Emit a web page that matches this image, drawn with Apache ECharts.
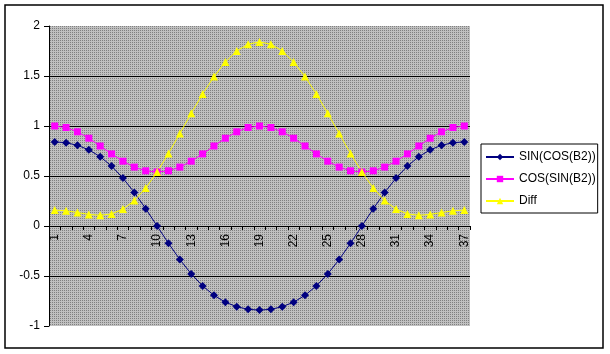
<!DOCTYPE html>
<html>
<head>
<meta charset="utf-8">
<script src="https://cdn.jsdelivr.net/npm/echarts@6/dist/echarts.min.js"></script>
<style>
  html, body { margin: 0; padding: 0; background: #fff; }
  #chart { width: 610px; height: 354px; }
</style>
</head>
<body>
<div id="chart"></div>
<script>
// 数据
var categories = ['1','2','3','4','5','6','7','8','9','10','11','12','13','14','15','16','17','18','19',
    '20','21','22','23','24','25','26','27','28','29','30','31','32','33','34','35','36','37'];
var sinCos = [0.841, 0.833, 0.807, 0.762, 0.693, 0.599, 0.479, 0.335, 0.173, 0,
    -0.173, -0.335, -0.479, -0.599, -0.693, -0.762, -0.807, -0.833, -0.841,
    -0.833, -0.807, -0.762, -0.693, -0.599, -0.479, -0.335, -0.173, 0,
    0.173, 0.335, 0.479, 0.599, 0.693, 0.762, 0.807, 0.833, 0.841];
var cosSin = [1, 0.985, 0.942, 0.878, 0.800, 0.721, 0.648, 0.589, 0.552, 0.540,
    0.552, 0.589, 0.648, 0.721, 0.800, 0.878, 0.942, 0.985, 1,
    0.985, 0.942, 0.878, 0.800, 0.721, 0.648, 0.589, 0.552, 0.540,
    0.552, 0.589, 0.648, 0.721, 0.800, 0.878, 0.942, 0.985, 1];
var diff = [0.159, 0.152, 0.135, 0.116, 0.107, 0.121, 0.169, 0.254, 0.379, 0.540,
    0.725, 0.925, 1.127, 1.320, 1.494, 1.639, 1.750, 1.818, 1.841,
    1.818, 1.750, 1.639, 1.494, 1.320, 1.127, 0.925, 0.725, 0.540,
    0.379, 0.254, 0.169, 0.121, 0.107, 0.116, 0.135, 0.152, 0.159];
var seriesNames = ['SIN(COS(B2))', 'COS(SIN(B2))', 'Diff'];

(function () {
    // 绘图区背景的点状灰色
    var pat = document.createElement('canvas');
    pat.width = 2; pat.height = 2;
    var ctx = pat.getContext('2d');
    ctx.fillStyle = '#c0c0c0';
    ctx.fillRect(0, 0, 2, 2);
    ctx.fillStyle = '#808080';
    ctx.fillRect(0, 0, 1, 1);

    var myChart = echarts.init(document.getElementById('chart'));
    var font = 'Liberation Sans, Arial, sans-serif';

    var option = {
        backgroundColor: '#fff',
        animation: false,
        textStyle: { fontFamily: font },
        graphic: [{
            type: 'rect',
            shape: { x: 5, y: 5, width: 598, height: 343 },
            style: { fill: null, stroke: '#000', lineWidth: 1.5 },
            z: 0
        }],
        grid: {
            left: 49, top: 26, width: 421, height: 300,
            show: true,
            backgroundColor: { image: pat, repeat: 'repeat' },
            borderWidth: 0
        },
        legend: {
            orient: 'vertical',
            left: 481, top: 144,
            padding: [6, 2, 5, 4],
            borderColor: '#000',
            borderWidth: 1,
            itemWidth: 28,
            itemHeight: 8,
            itemGap: 8,
            textStyle: { fontSize: 12, lineHeight: 14, color: '#000', fontFamily: font },
            data: seriesNames
        },
        xAxis: {
            type: 'category',
            data: categories,
            position: 'bottom',
            offset: -100, // 横轴放在 y = 0 处
            axisLine: { onZero: false, lineStyle: { color: '#000', width: 1 } },
            axisTick: { show: true, interval: 0, inside: false, length: 4, lineStyle: { color: '#000' } },
            axisLabel: { interval: 2, rotate: 90, margin: 8, fontSize: 12, color: '#000', fontFamily: font },
            splitLine: { show: false }
        },
        yAxis: {
            type: 'value',
            min: -1, max: 2, interval: 0.5,
            axisLine: { show: true, lineStyle: { color: '#000' } },
            axisTick: { show: true, length: 5, lineStyle: { color: '#000' } },
            axisLabel: { margin: 9, fontSize: 12, color: '#000', fontFamily: font },
            splitLine: { show: true, showMinLine: false, showMaxLine: false, lineStyle: { color: '#000', width: 1 } }
        },
        series: [
            {
                name: seriesNames[0], type: 'line', data: sinCos,
                symbol: 'diamond', symbolSize: 8, showAllSymbol: true,
                lineStyle: { color: '#000080', width: 1 },
                itemStyle: { color: '#000080' }
            },
            {
                name: seriesNames[1], type: 'line', data: cosSin,
                symbol: 'rect', symbolSize: 7, showAllSymbol: true,
                lineStyle: { color: '#ff00ff', width: 1 },
                itemStyle: { color: '#ff00ff' }
            },
            {
                name: seriesNames[2], type: 'line', data: diff,
                symbol: 'triangle', symbolSize: 8, showAllSymbol: true,
                lineStyle: { color: '#ffff00', width: 1 },
                itemStyle: { color: '#ffff00' }
            }
        ]
    };
    myChart.setOption(option);
})();
</script>
</body>
</html>
